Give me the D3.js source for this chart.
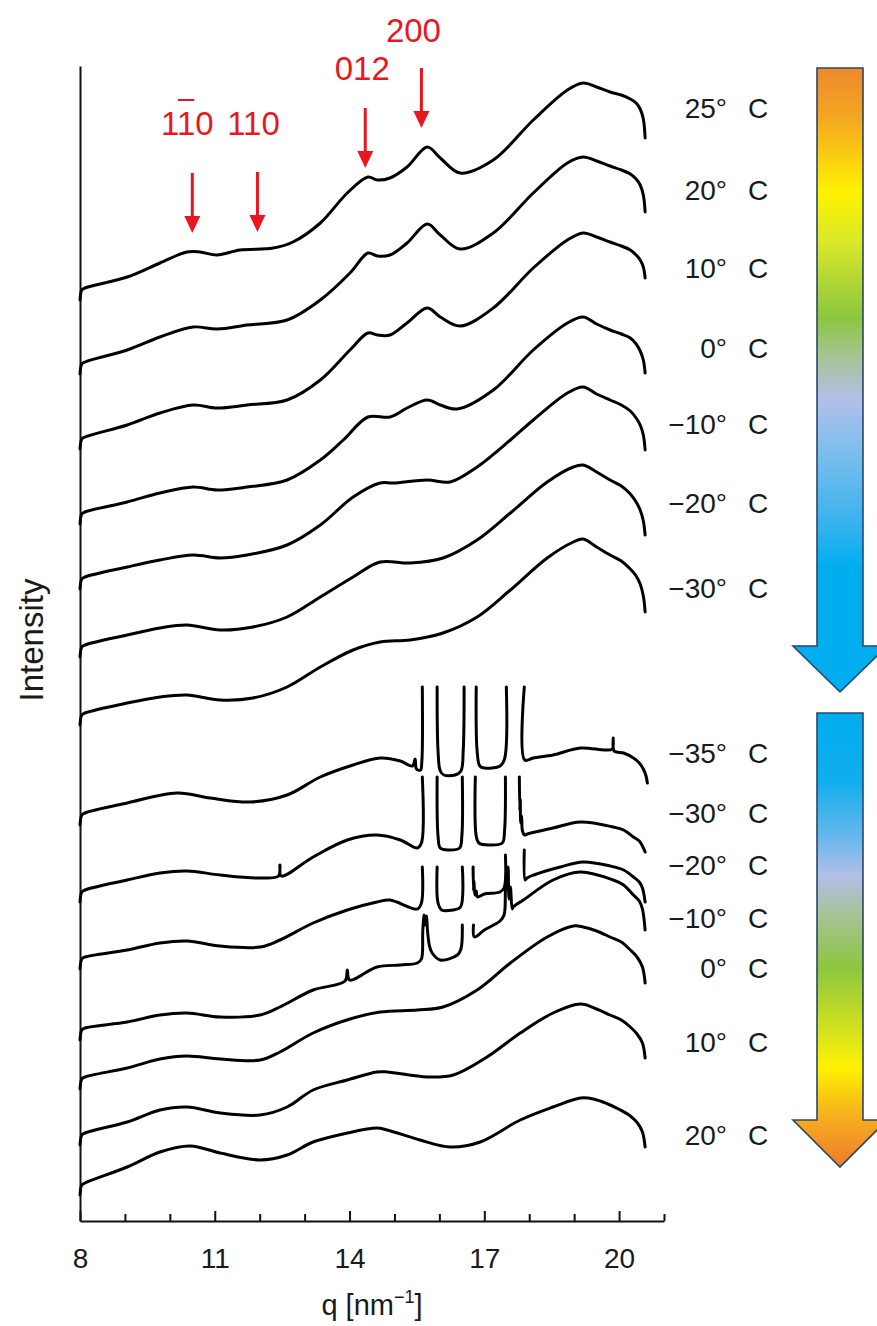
<!DOCTYPE html>
<html><head><meta charset="utf-8">
<script src="https://cdn.jsdelivr.net/npm/d3@7"></script>
<style>
html,body{margin:0;padding:0;background:#fff;}
svg{display:block;}
text{font-family:"Liberation Sans",Arial,Helvetica,sans-serif;}
</style></head><body>
<svg id="chart" width="877" height="1326"></svg>
<script>
// ---------------- DATA (q in nm^-1, intensity in arbitrary units, stacked) ----------------
const xTickLabels = [8, 11, 14, 17, 20];
const coolingLabels = ["25°", "20°", "10°", "0°", "−10°", "−20°", "−30°"];
const heatingLabels = ["−35°", "−30°", "−20°", "−10°", "0°", "10°", "20°"];
const peakNames = ["110", "110", "012", "200"];
const peakQ = [10.5, 11.95, 14.35, 15.6];
const peakBar = [true, false, false, false];

const cool25 = [[8.00,921],[8.04,931],[8.11,933],[9.05,944],[9.78,958],[10.38,969],[10.67,969],[11.05,966],[11.56,971],[12.30,973],[12.74,979],[13.35,998],[13.95,1028],[14.41,1044],[14.62,1041],[14.90,1043],[15.28,1054],[15.73,1074],[16.02,1063],[16.46,1048],[17.20,1061],[18.09,1101],[18.85,1131],[19.20,1138],[19.50,1134],[19.80,1129],[20.05,1126],[20.25,1122],[20.38,1118],[20.47,1112],[20.54,1102],[20.58,1083]];
const cool20 = [[8.00,847],[8.04,857],[8.11,859],[9.05,871],[9.78,884],[10.52,894],[11.05,892],[11.72,896],[12.61,901],[13.35,921],[14.01,948],[14.41,968],[14.62,965],[14.90,966],[15.28,978],[15.73,997],[16.02,986],[16.46,972],[17.20,988],[18.09,1028],[18.85,1058],[19.20,1064],[19.50,1060],[19.80,1055],[20.05,1051],[20.25,1047],[20.38,1042],[20.47,1036],[20.54,1026],[20.58,1009]];
const cool10 = [[8.00,772],[8.04,782],[8.11,784],[9.05,796],[9.78,808],[10.52,816],[11.05,813],[11.72,816],[12.61,821],[13.35,841],[14.01,871],[14.41,888],[14.62,886],[14.90,886],[15.28,898],[15.73,913],[16.02,904],[16.46,895],[17.20,913],[18.09,953],[18.85,981],[19.20,988],[19.50,984],[19.80,979],[20.05,975],[20.25,971],[20.38,966],[20.47,961],[20.54,954],[20.58,943]];
const cool0 = [[8.00,697],[8.04,707],[8.11,709],[9.05,719],[9.78,728],[10.52,734],[11.05,731],[11.72,734],[12.61,741],[13.35,761],[13.86,781],[14.41,804],[14.90,804],[15.28,813],[15.73,821],[16.02,816],[16.40,812],[17.20,831],[18.09,871],[18.85,898],[19.20,904],[19.50,897],[19.80,891],[20.05,887],[20.25,883],[20.38,877],[20.47,870],[20.54,861],[20.58,848]];
const coolM10 = [[8.00,632],[8.04,642],[8.11,644],[9.05,654],[9.78,661],[10.52,666],[11.12,663],[11.72,666],[12.61,676],[13.35,696],[14.08,724],[14.68,738],[14.97,738],[15.73,741],[16.24,739],[16.84,754],[17.58,781],[18.09,801],[18.85,828],[19.20,834],[19.50,827],[19.80,821],[20.05,816],[20.25,810],[20.38,803],[20.47,796],[20.54,786],[20.58,771]];
const coolM20 = [[8.00,564],[8.04,574],[8.11,576],[9.05,586],[9.78,593],[10.38,596],[11.12,591],[11.85,594],[12.61,604],[13.35,624],[14.08,644],[14.68,659],[15.35,658],[16.08,663],[16.84,681],[17.58,708],[18.40,739],[18.98,754],[19.20,756],[19.50,749],[19.80,741],[20.05,735],[20.25,727],[20.38,719],[20.47,711],[20.54,700],[20.58,686]];
const coolM30 = [[8.00,496],[8.04,506],[8.11,508],[9.05,518],[9.78,524],[10.38,526],[11.12,521],[11.85,523],[12.61,534],[13.35,554],[14.08,571],[14.68,579],[15.35,581],[16.08,588],[16.84,604],[17.58,631],[18.40,663],[18.98,679],[19.20,682],[19.50,674],[19.80,666],[20.05,660],[20.25,652],[20.38,645],[20.47,637],[20.54,625],[20.58,609]];

const heatM35 = [[8.00,396],[8.04,406],[8.11,408],[9.05,418],[10.16,428],[10.90,423],[11.79,419],[12.61,426],[13.35,444],[14.08,456],[14.68,463],[15.13,460],[15.40,455],[15.46,462],[15.49,452],[15.58,451],[15.61,460],[15.62,534],[15.78,null],[15.95,534],[15.97,470],[16.02,450],[16.10,446],[16.35,446],[16.48,450],[16.53,470],[16.55,534],[16.68,null],[16.82,534],[16.84,470],[16.90,455],[17.00,453],[17.35,455],[17.45,462],[17.49,534],[17.70,null],[17.89,534],[17.90,461],[18.09,463],[18.53,466],[19.14,473],[19.69,471],[19.85,472],[19.87,483],[19.89,470],[20.10,468],[20.32,463],[20.45,458],[20.54,452],[20.60,445],[20.63,438]];
const heatM30 = [[8.00,319],[8.04,329],[8.11,331],[9.05,341],[9.78,348],[10.38,350],[11.12,346],[12.01,343],[12.42,345],[12.45,356],[12.48,345],[13.19,364],[13.95,381],[14.61,386],[15.13,381],[15.51,373],[15.60,378],[15.62,444],[15.78,null],[15.95,444],[15.97,385],[16.02,373],[16.20,371],[16.45,373],[16.50,385],[16.51,444],[16.65,null],[16.80,444],[16.82,385],[16.88,378],[17.10,376],[17.40,378],[17.45,390],[17.47,444],[17.62,null],[17.78,444],[17.79,410],[17.80,422],[17.81,398],[17.83,405],[17.85,390],[17.90,386],[17.96,387],[18.53,393],[19.14,399],[19.87,394],[20.10,391],[20.32,384],[20.45,380],[20.52,375],[20.58,369]];
const heatM20 = [[8.00,252],[8.04,262],[8.11,264],[9.05,271],[9.78,278],[10.38,280],[11.12,275],[12.01,274],[12.45,281],[13.19,298],[13.95,311],[14.61,319],[14.90,321],[15.51,312],[15.60,318],[15.62,354],[15.78,null],[15.95,354],[15.97,318],[16.05,311],[16.30,311],[16.47,314],[16.51,354],[16.63,null],[16.75,354],[16.76,330],[16.77,340],[16.79,326],[16.82,330],[16.85,324],[17.00,327],[17.35,329],[17.44,333],[17.47,366],[17.68,null],[17.89,371],[17.91,341],[17.95,343],[18.10,346],[18.69,354],[19.20,359],[19.80,355],[20.10,351],[20.32,344],[20.45,339],[20.52,333],[20.58,319]];
const heatM10 = [[8.00,181],[8.04,191],[8.11,193],[9.05,199],[9.78,206],[10.38,208],[11.12,204],[12.01,206],[12.45,214],[13.19,231],[13.90,240],[13.95,251],[14.00,241],[14.61,254],[15.13,256],[15.51,258],[15.60,262],[15.63,290],[15.66,306],[15.68,296],[15.71,305],[15.74,288],[15.78,275],[15.84,268],[16.02,261],[16.40,266],[16.48,272],[16.51,296],[16.64,null],[16.76,296],[16.78,284],[17.00,291],[17.35,300],[17.44,306],[17.47,330],[17.49,345],[17.51,333],[17.53,354],[17.55,322],[17.58,334],[17.62,312],[17.64,314],[17.87,321],[18.53,341],[19.14,349],[19.87,341],[20.10,336],[20.32,326],[20.45,320],[20.52,312],[20.58,291]];
const heat0 = [[8.00,132],[8.04,142],[8.11,144],[9.05,153],[9.78,162],[10.38,165],[11.12,162],[12.01,161],[12.45,169],[13.19,188],[14.01,202],[14.68,209],[15.51,211],[16.08,214],[16.84,231],[17.58,258],[18.40,284],[18.98,295],[19.20,294],[19.50,290],[19.80,284],[20.05,279],[20.25,271],[20.40,264],[20.52,254],[20.58,238]];
const heat10 = [[8.00,76],[8.04,86],[8.11,88],[9.05,99],[9.78,111],[10.38,114],[11.12,108],[12.01,106],[12.61,114],[13.19,131],[13.95,141],[14.61,149],[14.84,149],[15.73,144],[16.31,146],[17.06,164],[17.80,188],[18.53,208],[19.14,217],[19.50,212],[19.80,206],[20.05,201],[20.25,194],[20.40,187],[20.52,178],[20.58,163]];
const heat20 = [[8.00,26],[8.04,36],[8.11,38],[9.05,54],[9.78,69],[10.45,75],[11.12,68],[12.01,61],[12.61,66],[13.19,79],[13.95,88],[14.61,93],[14.84,91],[15.57,81],[16.24,74],[16.91,79],[17.80,101],[18.53,114],[19.14,123],[19.43,122],[19.75,117],[20.03,111],[20.25,105],[20.41,98],[20.52,89],[20.58,74]];

const coolingCurves = [cool25, cool20, cool10, cool0, coolM10, coolM20, coolM30];
const heatingCurves = [heatM35, heatM30, heatM20, heatM10, heat0, heat10, heat20];

// ---------------- LAYOUT ----------------
const W = 877, H = 1326;
const plot = {left: 80, right: 664, top: 66, bottom: 1221};
const coolLabelY = [108, 190, 268, 348, 424, 503, 588];
const heatLabelY = [753, 813, 865, 918, 968, 1042, 1135];
const peakLabelBase = [135, 135, 80, 42];
const peakLabelDx = [-5, -4, -3, -8];
const peakArrow = [[173, 233], [172, 232], [108, 168], [68, 128]];
const RED = "#e8171f";

const svg = d3.select("#chart");
const x = d3.scaleLinear().domain([8, 21]).range([plot.left, plot.right]);
const y = d3.scaleLinear().domain([0, 1155]).range([plot.bottom, plot.top]);

// gradients for legend arrows
const defs = svg.append("defs");
function grad(id, stops) {
  const g = defs.append("linearGradient").attr("id", id)
    .attr("x1", 0).attr("y1", 0).attr("x2", 0).attr("y2", 1);
  stops.forEach(s => g.append("stop").attr("offset", s[0]).attr("stop-color", s[1]));
}
grad("gCool", [[0, "#ee8a2c"], [0.08, "#f4a722"], [0.20, "#fff200"], [0.28, "#d9e82a"], [0.40, "#8cc63f"], [0.47, "#a7c49c"], [0.53, "#b3bfe8"], [0.61, "#7fbeec"], [0.72, "#3fb3ee"], [0.80, "#00aeef"], [1, "#00aeef"]]);
grad("gHeat", [[0, "#00aeef"], [0.15, "#10aeee"], [0.28, "#6cb8ec"], [0.36, "#b4bfe6"], [0.44, "#a6c39a"], [0.56, "#8dc63f"], [0.70, "#d4e21e"], [0.78, "#fff200"], [0.88, "#f7b41d"], [1, "#ee7a2b"]]);

function bigArrow(top, headBase, tip, fill) {
  const cx = 840, sw = 23, hw = 47;
  const pts = [[cx - sw, top], [cx + sw, top], [cx + sw, headBase], [cx + hw, headBase], [cx, tip], [cx - hw, headBase], [cx - sw, headBase]];
  svg.append("path").attr("d", "M" + pts.map(p => p.join(",")).join("L") + "Z")
    .attr("fill", fill).attr("stroke", "#2b4868").attr("stroke-width", 1.6).attr("stroke-linejoin", "miter");
}
bigArrow(68, 646, 692, "url(#gCool)");
bigArrow(713, 1120, 1167, "url(#gHeat)");

// axes
const xAxis = d3.axisBottom(x).tickValues(d3.range(8, 22, 1)).tickSizeInner(-8).tickSizeOuter(0).tickPadding(27)
  .tickFormat(d => xTickLabels.includes(d) ? String(d) : "");
const gx = svg.append("g").attr("transform", `translate(0,${plot.bottom})`).call(xAxis);
gx.select(".domain").attr("stroke", "#111").attr("stroke-width", 2);
gx.selectAll(".tick line").attr("stroke", "#111").attr("stroke-width", 2)
  .attr("y2", d => (d - 8) % 3 === 0 ? -10 : -7);
gx.selectAll(".tick text").attr("font-size", 28).attr("fill", "#1a1a1a").attr("font-family", "Liberation Sans, Arial, sans-serif");

const yAxis = d3.axisLeft(y).tickValues([]).tickSizeOuter(0);
const gy = svg.append("g").attr("transform", `translate(${plot.left},0)`).call(yAxis);
gy.select(".domain").attr("stroke", "#111").attr("stroke-width", 2);

// axis titles
const xt = svg.append("text").attr("x", (plot.left + plot.right) / 2).attr("y", 1315)
  .attr("text-anchor", "middle").attr("font-size", 29).attr("fill", "#1a1a1a");
xt.append("tspan").text("q [nm");
xt.append("tspan").text("−1").attr("font-size", 18).attr("dy", -12);
xt.append("tspan").text("]").attr("dy", 12);

svg.append("text").attr("transform", "translate(31,640) rotate(-90)")
  .attr("text-anchor", "middle").attr("dy", "0.35em").attr("font-size", 33).attr("fill", "#1a1a1a").text("Intensity");

// curves
const line = d3.line().defined(d => d[1] != null).x(d => x(d[0])).y(d => y(d[1])).curve(d3.curveCatmullRom.alpha(0.5));
svg.append("g").selectAll("path").data(coolingCurves.concat(heatingCurves)).join("path")
  .attr("d", line).attr("fill", "none").attr("stroke", "#000").attr("stroke-width", 3)
  .attr("stroke-linejoin", "round").attr("stroke-linecap", "round");

// temperature labels
function tempLabels(labels, ys) {
  const g = svg.append("g").attr("font-size", 28).attr("fill", "#1a1a1a");
  labels.forEach((t, i) => {
    g.append("text").attr("x", 727).attr("y", ys[i]).attr("dy", "0.35em").attr("text-anchor", "end").text(t);
    g.append("text").attr("x", 748).attr("y", ys[i]).attr("dy", "0.35em").text("C");
  });
}
tempLabels(coolingLabels, coolLabelY);
tempLabels(heatingLabels, heatLabelY);

// peak annotations
const ga = svg.append("g");
peakNames.forEach((name, i) => {
  const px = x(peakQ[i]);
  const t = ga.append("text").attr("x", px + peakLabelDx[i]).attr("y", peakLabelBase[i])
    .attr("text-anchor", "middle").attr("font-size", 33).attr("fill", RED).text(name);
  if (peakBar[i]) {
    const node = t.node();
    const s = node.getStartPositionOfChar(1), e = node.getEndPositionOfChar(1);
    ga.append("line").attr("x1", s.x + 1).attr("x2", e.x - 1)
      .attr("y1", peakLabelBase[i] - 35).attr("y2", peakLabelBase[i] - 35)
      .attr("stroke", RED).attr("stroke-width", 2);
  }
  const [y0, y1] = peakArrow[i];
  ga.append("line").attr("x1", px).attr("x2", px).attr("y1", y0).attr("y2", y1 - 14)
    .attr("stroke", RED).attr("stroke-width", 3);
  ga.append("path").attr("d", `M${px - 8},${y1 - 17}L${px + 8},${y1 - 17}L${px},${y1}Z`).attr("fill", RED);
});
</script>
</body></html>
